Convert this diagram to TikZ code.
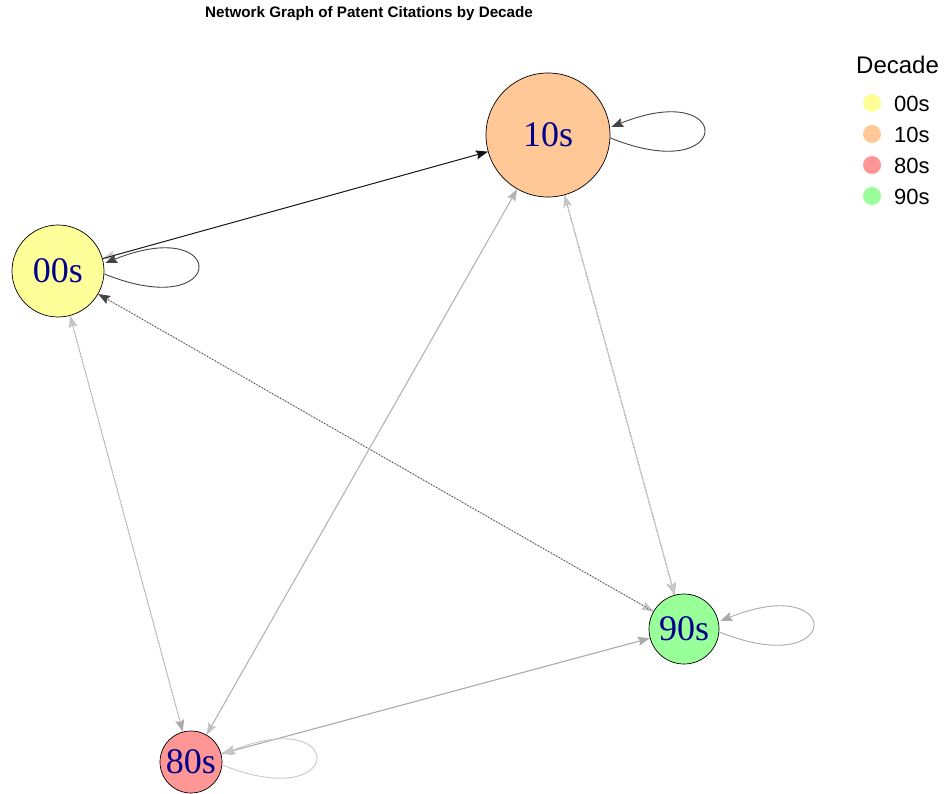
\documentclass[tikz,border=0pt]{standalone}
\usepackage{fontspec}
\setmainfont{Liberation Serif}
\setsansfont{Liberation Sans}
\usetikzlibrary{arrows.meta,calc}

\definecolor{c00}{HTML}{FFFF99}
\definecolor{c10}{HTML}{FFC896}
\definecolor{c80}{HTML}{FF9696}
\definecolor{c90}{HTML}{99FF99}
\definecolor{lab}{HTML}{00008B}
\definecolor{g1}{HTML}{111111}
\definecolor{g2}{HTML}{444444}
\definecolor{g3}{HTML}{707070}
\definecolor{g4}{HTML}{AAAAAA}
\definecolor{g5}{HTML}{C8C8C8}

\begin{document}
\begin{tikzpicture}[x=1pt,y=-1pt,
  decade/.style={circle,draw=black,line width=0.7pt,inner sep=0pt,
    text=lab,font=\fontsize{36}{36}\selectfont},
  edge/.style={line width=0.9pt,-{Stealth[length=12pt,width=9pt,inset=2pt]}},
  dotted edge/.style={edge,dash pattern=on 1pt off 2pt},
  selfloop/.style={line width=0.9pt,-{Stealth[length=12pt,width=9pt,inset=2pt]}},
  legdot/.style={circle,inner sep=0pt,minimum size=18pt},
  legtext/.style={anchor=west,inner sep=0pt,font=\sffamily\fontsize{22}{22}\selectfont}]
\useasboundingbox (0,0) rectangle (950,794);

% title
\node[font=\sffamily\bfseries\fontsize{15.2}{15.2}\selectfont] (title) at (369,14)
  {Network Graph of Patent Citations by Decade};

% vertices
\node[decade,fill=c00,minimum size=92pt]  (n00) at (58,271)  {00s};
\node[decade,fill=c10,minimum size=124pt] (n10) at (548,135) {10s};
\node[decade,fill=c90,minimum size=70pt]  (n90) at (684,629) {90s};
\node[decade,fill=c80,minimum size=62pt]  (n80) at (191,762) {80s};

% citations between decades (both directions overlap)
\draw[edge,g5] (n10) -- (n00);
\draw[edge,g1] (n00) -- (n10);

\draw[edge,g5] (n00) -- (n90);
\draw[dotted edge,g2] (n90) -- (n00);

\draw[edge,g5] (n90) -- (n10);
\draw[dotted edge,g3] (n10) -- (n90);
\draw[edge,g5] (n10) -- (n90);

\draw[edge,g5] (n80) -- (n00);
\draw[dotted edge,g4] (n00) -- (n80);

\draw[edge,g5] (n10) -- (n80);
\draw[edge,g5!90!black] (n80) -- (n10);

\draw[edge,g5] (n90) -- (n80);
\draw[edge,g4] (n80) -- (n90);

% self citations
\draw[selfloop,g2] ($(n00.east)+(0,3)$) .. controls +(124,50) and +(124,-50) .. ($(n00.east)+(1,-8)$);
\draw[selfloop,g2] ($(n10.east)+(0,3)$) .. controls +(124,50) and +(124,-50) .. ($(n10.east)+(1,-8)$);
\draw[selfloop,g4] ($(n90.east)+(0,3)$) .. controls +(124,50) and +(124,-50) .. ($(n90.east)+(1,-8)$);
\draw[selfloop,g5] ($(n80.east)+(0,3)$) .. controls +(124,50) and +(124,-50) .. ($(n80.east)+(1,-8)$);

% legend
\node[anchor=west,inner sep=0pt,font=\sffamily\fontsize{24}{24}\selectfont] (legtitle) at (856,65) {Decade};
\node[legdot,fill=c00] (d00) at (872,103) {};
\node[legdot,fill=c10] (d10) at (872,134) {};
\node[legdot,fill=c80] (d80) at (872,165) {};
\node[legdot,fill=c90] (d90) at (872,196) {};
\node[legtext] (l00) at (894,104) {00s};
\node[legtext] (l10) at (894,135) {10s};
\node[legtext] (l80) at (894,166) {80s};
\node[legtext] (l90) at (894,197) {90s};
\end{tikzpicture}
\end{document}
